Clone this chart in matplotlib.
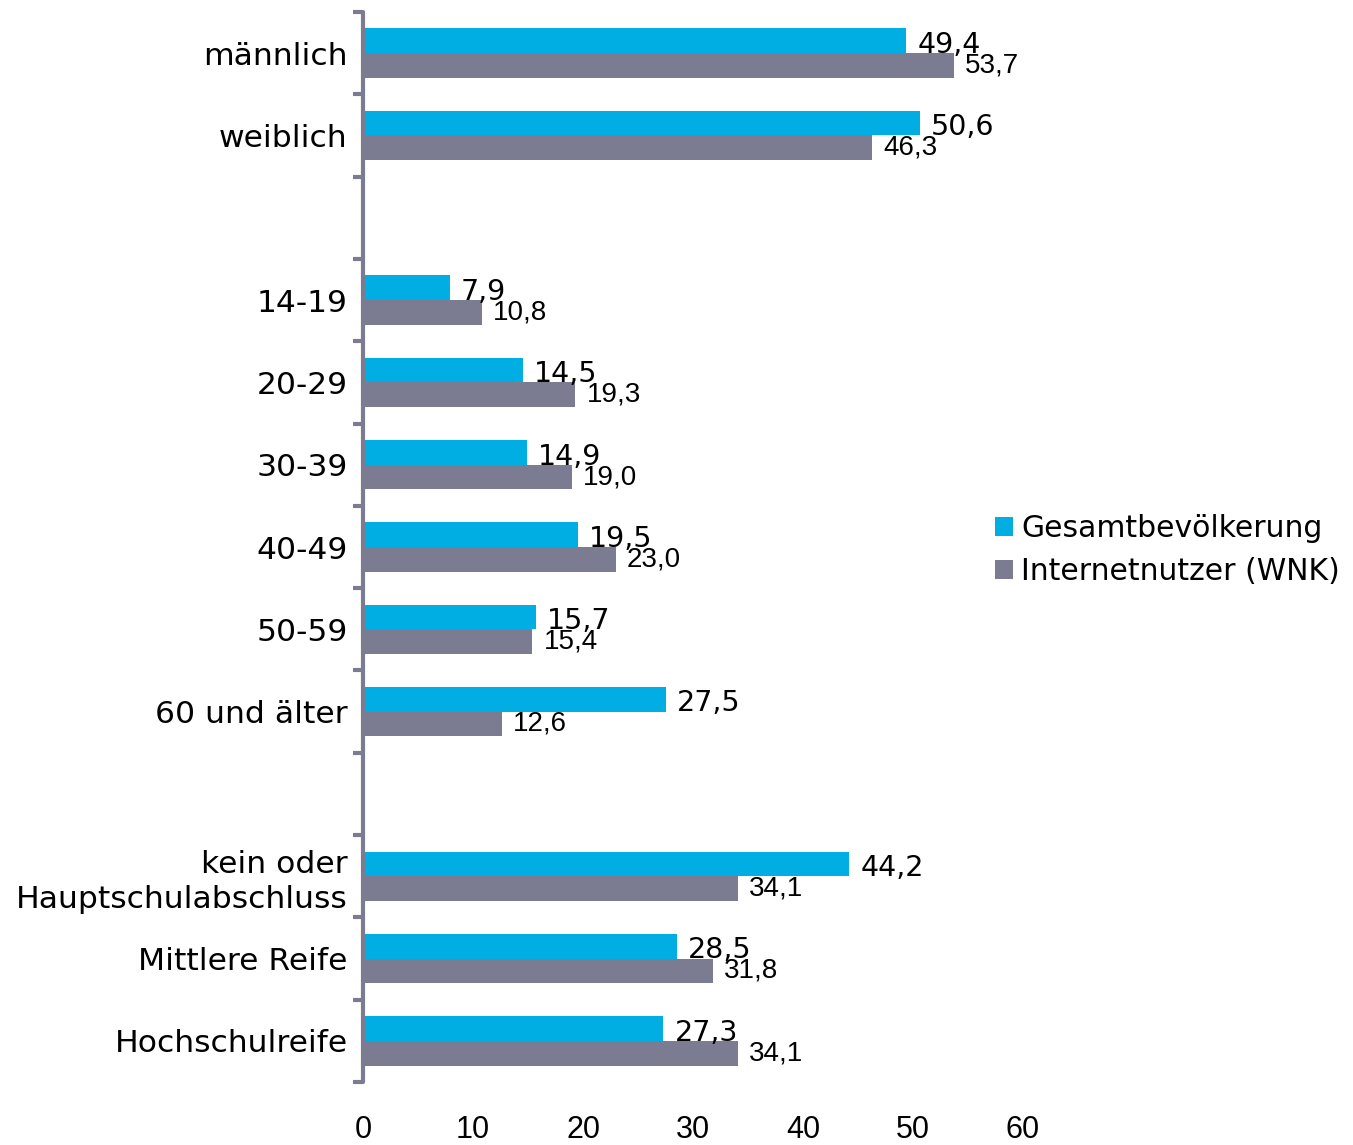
import numpy as np
import matplotlib
matplotlib.use("Agg")
from matplotlib import pyplot as plt

# data (percent)
categories = ["männlich", "weiblich",
              "14-19", "20-29", "30-39", "40-49", "50-59", "60 und älter",
              "kein oder\nHauptschulabschluss", "Mittlere Reife", "Hochschulreife"]
gesamt = [49.4, 50.6, 7.9, 14.5, 14.9, 19.5, 15.7, 27.5, 44.2, 28.5, 27.3]
internet = [53.7, 46.3, 10.8, 19.3, 19.0, 23.0, 15.4, 12.6, 34.1, 31.8, 34.1]
group_sizes = [2, 6, 3]   # one empty slot between the groups
xticks = [0, 10, 20, 30, 40, 50, 60]

cyan = "#00aee3"
grey = "#7b7b91"

plt.rcParams['font.family'] = ['DejaVu Sans']

# slot positions with gaps
pos = []
slot = 0
for g in group_sizes:
  for i in range(g):
    pos.append(slot)
    slot += 1
  slot += 1
nslots = slot - 1
pos = np.array(pos)

fig = plt.figure(figsize=(13.53, 11.45), dpi=100)
ax = fig.add_axes([0.2683, 0.055, 0.4878, 0.9345])

h = 0.3
ax.barh(pos - h/2, gesamt, height=h, color=cyan, label="Gesamtbevölkerung")
ax.barh(pos + h/2, internet, height=h, color=grey, label="Internetnutzer (WNK)")

for p, v in zip(pos, gesamt):
  ax.annotate(("%.1f" % v).replace(".", ","), (v, p - h/2), xytext=(8, -3),
              textcoords="offset points", va="center", ha="left", fontsize=20.5)
for p, v in zip(pos, internet):
  ax.annotate(("%.1f" % v).replace(".", ","), (v, p + h/2), xytext=(8, 0),
              textcoords="offset points", va="center", ha="left", fontsize=20,
              family=["Liberation Sans", "DejaVu Sans"])

ax.set_xlim(0, 60)
ax.set_ylim(nslots - 0.5, -0.5)

ax.set_yticks(pos)
ax.set_yticklabels(categories, fontsize=22.6, linespacing=1.25)
ax.set_yticks(np.arange(nslots + 1) - 0.5, minor=True)
ax.tick_params(axis="y", which="major", length=0, pad=11)
ax.tick_params(axis="y", which="minor", length=7, width=3, color=grey)

ax.set_xticks(xticks)
ax.set_xticklabels([str(t) for t in xticks], fontsize=22,
                   family=["Liberation Sans", "DejaVu Sans"])
ax.tick_params(axis="x", length=0, pad=24)

for s in ["top", "right", "bottom"]:
  ax.spines[s].set_visible(False)
ax.spines["left"].set_color(grey)
ax.spines["left"].set_linewidth(3)
ax.spines["left"].set_capstyle("round")

fig.legend(loc="center left", bbox_to_anchor=(0.7354, 0.5197), frameon=False,
           fontsize=21.5, handlelength=0.6, handleheight=0.6, handletextpad=0.28,
           labelspacing=0.45, borderpad=0, borderaxespad=0)

fig.savefig("out.png", dpi=100)
